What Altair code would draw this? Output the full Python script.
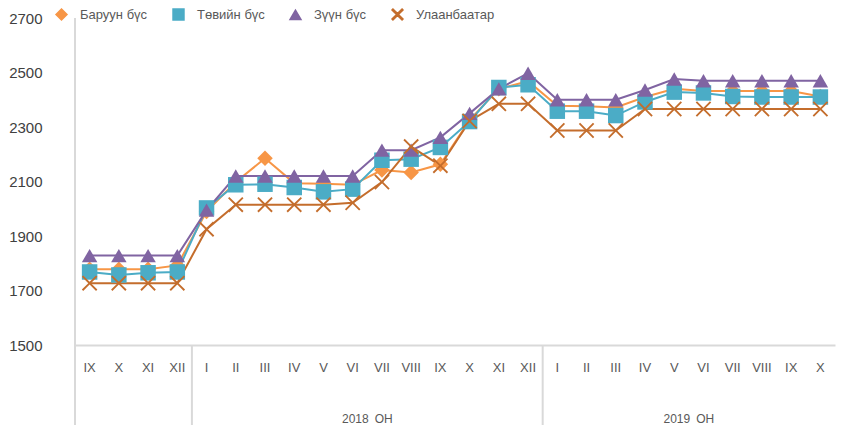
import altair as alt
import pandas as pd

# ---- data -------------------------------------------------------------
months = ["IX", "X", "XI", "XII",
          "I", "II", "III", "IV", "V", "VI", "VII", "VIII", "IX", "X", "XI", "XII",
          "I", "II", "III", "IV", "V", "VI", "VII", "VIII", "IX", "X"]
years = [2017] * 4 + [2018] * 12 + [2019] * 10

series_names = ["Баруун бүс", "Төвийн бүс", "Зүүн бүс", "Улаанбаатар"]
series_colors = ["#F79646", "#4BACC6", "#8064A2", "#C46D2C"]

baruun = [1778, 1778, 1778, 1792,
          1990, 2098, 2185, 2094, 2092, 2088, 2142, 2133, 2163, 2325, 2440, 2468,
          2378, 2376, 2372, 2410, 2440, 2432, 2432, 2432, 2432, 2412]
tov = [1768, 1757, 1765, 1768,
       2003, 2088, 2090, 2078, 2062, 2072, 2178, 2182, 2225, 2320, 2445, 2455,
       2358, 2358, 2342, 2392, 2428, 2425, 2412, 2410, 2410, 2410]
zuun = [1828, 1828, 1828, 1828,
        1995, 2120, 2120, 2120, 2120, 2120, 2215, 2215, 2262, 2350, 2440, 2497,
        2400, 2400, 2400, 2436, 2476, 2470, 2470, 2470, 2470, 2470]
ulaanbaatar = [1727, 1727, 1727, 1727,
               1925, 2015, 2015, 2015, 2015, 2022, 2098, 2228, 2158, 2322, 2385, 2385,
               2287, 2287, 2287, 2366, 2366, 2366, 2366, 2366, 2366, 2366]

y_ticks = [1500, 1700, 1900, 2100, 2300, 2500, 2700]
group_labels = ["2018\u2002ОН", "2019\u2002ОН"]
group_centers = ["2018-VII", "2019-VI"]      # category whose left edge is the group's centre
separator_keys = ["2018-I", "2019-I"]

# ---- tables -----------------------------------------------------------
keys = [f"{y}-{m}" for y, m in zip(years, months)]
rows = []
for name, vals in zip(series_names, [baruun, tov, zuun, ulaanbaatar]):
    for k, v in zip(keys, vals):
        rows.append({"key": k, "series": name, "value": v})
df = pd.DataFrame(rows)
sep_df = pd.DataFrame({"key": separator_keys})
grp_df = pd.DataFrame({"key": group_centers, "label": group_labels})

X_PATH = ("M0,-0.17L0.83,-1L1,-0.83L0.17,0L1,0.83L0.83,1L0,0.17L-0.83,1"
          "L-1,0.83L-0.17,0L-1,-0.83L-0.83,-1Z")

W, H = 760, 327
FONT = "Liberation Sans"
GRAY = "#595959"

x_scale = alt.Scale(type="band", domain=keys, paddingInner=0, paddingOuter=0)
y_scale = alt.Scale(domain=[1500, 2700], nice=False, zero=False)
color_scale = alt.Scale(domain=series_names, range=series_colors)
shape_scale = alt.Scale(domain=series_names,
                        range=["diamond", "square", "triangle-up", X_PATH])
legend_def = alt.Legend(orient="none", direction="horizontal",
                        legendX=-20, legendY=-10)

x_enc = alt.X("key:N", scale=x_scale, bandPosition=0.5,
              axis=alt.Axis(title=None, labelExpr="split(datum.value, '-')[1]",
                            labelAngle=0, ticks=False, grid=False,
                            domainColor="#D9D9D9", domainWidth=2,
                            labelColor=GRAY, labelFontSize=13, labelFont=FONT,
                            labelPadding=16))
y_enc = alt.Y("value:Q", scale=y_scale,
              axis=alt.Axis(title=None, values=y_ticks, format="d", domain=False,
                            ticks=False, grid=False, labelColor="#404040",
                            labelFontSize=15, labelFont=FONT, labelPadding=33))

lines = alt.Chart(df).mark_line(strokeWidth=2).encode(
    x=x_enc, y=y_enc,
    color=alt.Color("series:N", scale=color_scale, title=None, legend=legend_def),
    detail="series:N",
)

points = alt.Chart(df).mark_point(filled=True, opacity=1, size=240).encode(
    x=alt.X("key:N", scale=x_scale, bandPosition=0.5),
    y=alt.Y("value:Q", scale=y_scale),
    color=alt.Color("series:N", scale=color_scale, title=None, legend=legend_def),
    shape=alt.Shape("series:N", scale=shape_scale, title=None, legend=legend_def),
)

left_rule = alt.Chart(sep_df).mark_rule(color="#D9D9D9", strokeWidth=2).encode(
    x=alt.value(0), y=alt.value(0), y2=alt.value(H + 90)
)
sep_rules = alt.Chart(sep_df).mark_rule(color="#D9D9D9", strokeWidth=2).encode(
    x=alt.X("key:N", scale=x_scale, bandPosition=0),
    y=alt.value(H), y2=alt.value(H + 90)
)
group_text = alt.Chart(grp_df).mark_text(
    font=FONT, fontSize=12, color=GRAY, baseline="middle", align="center"
).encode(
    x=alt.X("key:N", scale=x_scale, bandPosition=0),
    y=alt.value(H + 74),
    text="label:N",
)

chart = alt.layer(lines, points, left_rule, sep_rules, group_text).properties(
    width=W, height=H,
    autosize=alt.AutoSizeParams(type="none"),
    padding={"left": 67, "top": 10, "right": 1, "bottom": 80},
    background="white",
).configure_view(stroke=None).configure_legend(
    labelFont=FONT, labelFontSize=13, labelColor=GRAY, symbolSize=120,
    columnPadding=22, labelOffset=12,
)

chart.save("out.html", embed_options={"renderer": "svg", "actions": False})
